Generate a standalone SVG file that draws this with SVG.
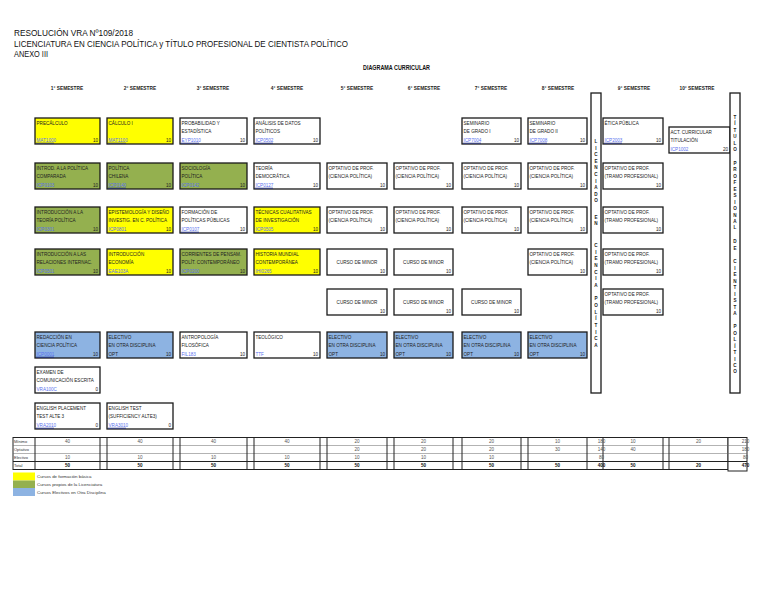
<svg xmlns="http://www.w3.org/2000/svg" width="768" height="594" viewBox="0 0 768 594">
<style>
text{font-family:"Liberation Sans",Arial,sans-serif}
.bx{stroke:#1a1a1a;stroke-width:1.3}
.w{fill:#fff}.y{fill:#ffff00}.g{fill:#94b04f}.b{fill:#8db3e2}
.t{font-size:4.6px;fill:#222}
.c{font-size:4.6px;fill:#5a72ee}
.r{text-anchor:end}
.m{text-anchor:middle}
.u{stroke:#1c2a8c;stroke-width:0.8}
.hd{font-size:4.8px;font-weight:bold;fill:#222;text-anchor:middle}
.vl{font-size:4.6px;font-weight:bold;fill:#222;text-anchor:middle}
.tv{font-size:4.6px;fill:#555;text-anchor:middle}
.tb{font-size:4.6px;fill:#111;font-weight:bold;text-anchor:middle}
.tl{font-size:4px;fill:#333}
.tg{stroke:#222;stroke-width:1}
.th{stroke:#666;stroke-width:0.5}
.lg{font-size:4.4px;fill:#333}
</style>
<rect width="768" height="594" fill="#fff"/>
<g id="title">
<text x="14" y="36" font-size="9" fill="#111" textLength="119" lengthAdjust="spacingAndGlyphs">RESOLUCIÓN VRA Nº109/2018</text>
<text x="14" y="46.5" font-size="9" fill="#111" textLength="334" lengthAdjust="spacingAndGlyphs">LICENCIATURA EN CIENCIA POLÍTICA y TÍTULO PROFESIONAL DE CIENTISTA POLÍTICO</text>
<text x="14" y="57" font-size="8.6" fill="#111" textLength="34" lengthAdjust="spacingAndGlyphs">ANEXO III</text>
<text x="363" y="70" font-size="7" font-weight="bold" fill="#111" textLength="67" lengthAdjust="spacingAndGlyphs">DIAGRAMA CURRICULAR</text>
</g>
<g id="headers">
<text class="hd" x="67" y="90">1° SEMESTRE</text>
<text class="hd" x="140" y="90">2° SEMESTRE</text>
<text class="hd" x="213" y="90">3° SEMESTRE</text>
<text class="hd" x="287" y="90">4° SEMESTRE</text>
<text class="hd" x="357" y="90">5° SEMESTRE</text>
<text class="hd" x="424" y="90">6° SEMESTRE</text>
<text class="hd" x="491" y="90">7° SEMESTRE</text>
<text class="hd" x="558" y="90">8° SEMESTRE</text>
<text class="hd" x="634" y="90">9° SEMESTRE</text>
<text class="hd" x="697" y="90">10° SEMESTRE</text>
</g>

<!-- 1st semester -->
<g id="c1r1"><rect class="bx y" x="35" y="118" width="65" height="26"/><text class="t" x="36.5" y="124.5">PRECÁLCULO</text><text class="c" x="36.5" y="142">MAT1000</text><line class="u" x1="36" y1="143.2" x2="54" y2="143.2"/><text class="t r" x="98" y="142">10</text></g>
<g id="c1r2"><rect class="bx g" x="35" y="163" width="65" height="26"/><text class="t" x="36.5" y="169.5">INTROD. A LA POLÍTICA</text><text class="t" x="36.5" y="178">COMPARADA</text><text class="c" x="36.5" y="187">ICP0103</text><text class="t r" x="98" y="187">10</text></g>
<g id="c1r3"><rect class="bx g" x="35" y="207" width="65" height="26"/><text class="t" x="36.5" y="213.5">INTRODUCCIÓN A LA</text><text class="t" x="36.5" y="222">TEORÍA POLÍTICA</text><text class="c" x="36.5" y="231">ICP0301</text><text class="t r" x="98" y="231">10</text></g>
<g id="c1r4"><rect class="bx g" x="35" y="249" width="65" height="26"/><text class="t" x="36.5" y="255.5">INTRODUCCIÓN A LAS</text><text class="t" x="36.5" y="264">RELACIONES INTERNAC.</text><text class="c" x="36.5" y="273">ICP0501</text><text class="t r" x="98" y="273">10</text></g>
<g id="c1r6"><rect class="bx b" x="35" y="332" width="65" height="26"/><text class="t" x="36.5" y="338.5">REDACCIÓN EN</text><text class="t" x="36.5" y="347">CIENCIA POLÍTICA</text><text class="c" x="36.5" y="356">ICP0001</text><line class="u" x1="36" y1="357.2" x2="54" y2="357.2"/><text class="t r" x="98" y="356">10</text></g>
<g id="c1r7"><rect class="bx w" x="35" y="367" width="65" height="26"/><text class="t" x="36.5" y="373.5">EXAMEN DE</text><text class="t" x="36.5" y="382">COMUNICACIÓN ESCRITA</text><text class="c" x="36.5" y="391">VRA100C</text><text class="t r" x="98" y="391">0</text></g>
<g id="c1r8"><rect class="bx w" x="35" y="403" width="65" height="26"/><text class="t" x="36.5" y="409.5">ENGLISH PLACEMENT</text><text class="t" x="36.5" y="418">TEST ALTE 3</text><text class="c" x="36.5" y="427">VRA2010</text><line class="u" x1="36" y1="428.2" x2="54" y2="428.2"/><text class="t r" x="98" y="427">0</text></g>

<!-- 2nd semester -->
<g id="c2r1"><rect class="bx y" x="107" y="118" width="66" height="26"/><text class="t" x="108.5" y="124.5">CÁLCULO I</text><text class="c" x="108.5" y="142">MAT1100</text><line class="u" x1="108" y1="143.2" x2="126" y2="143.2"/><text class="t r" x="171" y="142">10</text></g>
<g id="c2r2"><rect class="bx g" x="107" y="163" width="66" height="26"/><text class="t" x="108.5" y="169.5">POLÍTICA</text><text class="t" x="108.5" y="178">CHILENA</text><text class="c" x="108.5" y="187">ICP0140</text><line class="u" x1="108" y1="188.2" x2="126" y2="188.2"/><text class="t r" x="171" y="187">10</text></g>
<g id="c2r3"><rect class="bx y" x="107" y="207" width="66" height="26"/><text class="t" x="108.5" y="213.5">EPISTEMOLOGÍA Y DISEÑO</text><text class="t" x="108.5" y="222">INVESTIG. EN C. POLÍTICA</text><text class="c" x="108.5" y="231">ICP0801</text><text class="t r" x="171" y="231">10</text></g>
<g id="c2r4"><rect class="bx y" x="107" y="249" width="66" height="26"/><text class="t" x="108.5" y="255.5">INTRODUCCIÓN</text><text class="t" x="108.5" y="264">ECONOMÍA</text><text class="c" x="108.5" y="273">EAE103A</text><text class="t r" x="171" y="273">10</text></g>
<g id="c2r6"><rect class="bx b" x="107" y="332" width="66" height="26"/><text class="t" x="108.5" y="338.5">ELECTIVO</text><text class="t" x="108.5" y="347">EN OTRA DISCIPLINA</text><text class="t" x="108.5" y="356">OPT</text><text class="t r" x="171" y="356">10</text></g>
<g id="c2r8"><rect class="bx w" x="107" y="403" width="66" height="26"/><text class="t" x="108.5" y="409.5">ENGLISH TEST</text><text class="t" x="108.5" y="418">(SUFFICIENCY ALTE3)</text><text class="c" x="108.5" y="427">VRA3010</text><line class="u" x1="108" y1="428.2" x2="126" y2="428.2"/><text class="t r" x="171" y="427">0</text></g>

<!-- 3rd semester -->
<g id="c3r1"><rect class="bx w" x="180" y="118" width="67" height="26"/><text class="t" x="181.5" y="124.5">PROBABILIDAD Y</text><text class="t" x="181.5" y="133">ESTADÍSTICA</text><text class="c" x="181.5" y="142">EYP1010</text><line class="u" x1="181" y1="143.2" x2="199" y2="143.2"/><text class="t r" x="245" y="142">10</text></g>
<g id="c3r2"><rect class="bx g" x="180" y="163" width="67" height="26"/><text class="t" x="181.5" y="169.5">SOCIOLOGÍA</text><text class="t" x="181.5" y="178">POLÍTICA</text><text class="c" x="181.5" y="187">ICP0142</text><text class="t r" x="245" y="187">10</text></g>
<g id="c3r3"><rect class="bx w" x="180" y="207" width="67" height="26"/><text class="t" x="181.5" y="213.5">FORMACIÓN DE</text><text class="t" x="181.5" y="222">POLÍTICAS PÚBLICAS</text><text class="c" x="181.5" y="231">ICP0107</text><line class="u" x1="181" y1="232.2" x2="199" y2="232.2"/><text class="t r" x="245" y="231">10</text></g>
<g id="c3r4"><rect class="bx g" x="180" y="249" width="67" height="26"/><text class="t" x="181.5" y="255.5">CORRIENTES DE PENSAM.</text><text class="t" x="181.5" y="264">POLÍT. CONTEMPORÁNEO</text><text class="c" x="181.5" y="273">ICP0200</text><text class="t r" x="245" y="273">10</text></g>
<g id="c3r6"><rect class="bx w" x="180" y="332" width="67" height="26"/><text class="t" x="181.5" y="338.5">ANTROPOLOGÍA</text><text class="t" x="181.5" y="347">FILOSÓFICA</text><text class="c" x="181.5" y="356">FIL183</text><text class="t r" x="245" y="356">10</text></g>

<!-- 4th semester -->
<g id="c4r1"><rect class="bx w" x="254" y="118" width="66" height="26"/><text class="t" x="255.5" y="124.5">ANÁLISIS DE DATOS</text><text class="t" x="255.5" y="133">POLÍTICOS</text><text class="c" x="255.5" y="142">ICP0502</text><line class="u" x1="255" y1="143.2" x2="273" y2="143.2"/><text class="t r" x="318" y="142">10</text></g>
<g id="c4r2"><rect class="bx w" x="254" y="163" width="66" height="26"/><text class="t" x="255.5" y="169.5">TEORÍA</text><text class="t" x="255.5" y="178">DEMOCRÁTICA</text><text class="c" x="255.5" y="187">ICP0127</text><line class="u" x1="255" y1="188.2" x2="273" y2="188.2"/><text class="t r" x="318" y="187">10</text></g>
<g id="c4r3"><rect class="bx y" x="254" y="207" width="66" height="26"/><text class="t" x="255.5" y="213.5">TÉCNICAS CUALITATIVAS</text><text class="t" x="255.5" y="222">DE INVESTIGACIÓN</text><text class="c" x="255.5" y="231">ICP0505</text><text class="t r" x="318" y="231">10</text></g>
<g id="c4r4"><rect class="bx y" x="254" y="249" width="66" height="26"/><text class="t" x="255.5" y="255.5">HISTORIA MUNDIAL</text><text class="t" x="255.5" y="264">CONTEMPORÁNEA</text><text class="c" x="255.5" y="273">IHI0265</text><text class="t r" x="318" y="273">10</text></g>
<g id="c4r6"><rect class="bx w" x="254" y="332" width="66" height="26"/><text class="t" x="255.5" y="338.5">TEOLÓGICO</text><text class="c" x="255.5" y="356">TTF</text><text class="t r" x="318" y="356">10</text></g>

<!-- 5th semester -->
<g id="c5r2"><rect class="bx w" x="327" y="163" width="60" height="26"/><text class="t" x="328.5" y="169.5">OPTATIVO DE PROF.</text><text class="t" x="328.5" y="178">(CIENCIA POLÍTICA)</text><text class="t r" x="385" y="187">10</text></g>
<g id="c5r3"><rect class="bx w" x="327" y="207" width="60" height="26"/><text class="t" x="328.5" y="213.5">OPTATIVO DE PROF.</text><text class="t" x="328.5" y="222">(CIENCIA POLÍTICA)</text><text class="t r" x="385" y="231">10</text></g>
<g id="c5r4"><rect class="bx w" x="327" y="249" width="60" height="26"/><text class="t m" x="357" y="264">CURSO DE MINOR</text><text class="t r" x="385" y="273">10</text></g>
<g id="c5r5"><rect class="bx w" x="327" y="289" width="60" height="26"/><text class="t m" x="357" y="304">CURSO DE MINOR</text><text class="t r" x="385" y="313">10</text></g>
<g id="c5r6"><rect class="bx b" x="327" y="332" width="60" height="26"/><text class="t" x="328.5" y="338.5">ELECTIVO</text><text class="t" x="328.5" y="347">EN OTRA DISCIPLINA</text><text class="t" x="328.5" y="356">OPT</text><text class="t r" x="385" y="356">10</text></g>

<!-- 6th semester -->
<g id="c6r2"><rect class="bx w" x="394" y="163" width="59" height="26"/><text class="t" x="395.5" y="169.5">OPTATIVO DE PROF.</text><text class="t" x="395.5" y="178">(CIENCIA POLÍTICA)</text><text class="t r" x="451" y="187">10</text></g>
<g id="c6r3"><rect class="bx w" x="394" y="207" width="59" height="26"/><text class="t" x="395.5" y="213.5">OPTATIVO DE PROF.</text><text class="t" x="395.5" y="222">(CIENCIA POLÍTICA)</text><text class="t r" x="451" y="231">10</text></g>
<g id="c6r4"><rect class="bx w" x="394" y="249" width="59" height="26"/><text class="t m" x="423.5" y="264">CURSO DE MINOR</text><text class="t r" x="451" y="273">10</text></g>
<g id="c6r5"><rect class="bx w" x="394" y="289" width="59" height="26"/><text class="t m" x="423.5" y="304">CURSO DE MINOR</text><text class="t r" x="451" y="313">10</text></g>
<g id="c6r6"><rect class="bx b" x="394" y="332" width="59" height="26"/><text class="t" x="395.5" y="338.5">ELECTIVO</text><text class="t" x="395.5" y="347">EN OTRA DISCIPLINA</text><text class="t" x="395.5" y="356">OPT</text><text class="t r" x="451" y="356">10</text></g>

<!-- 7th semester -->
<g id="c7r1"><rect class="bx w" x="462" y="118" width="59" height="26"/><text class="t" x="463.5" y="124.5">SEMINARIO</text><text class="t" x="463.5" y="133">DE GRADO  I</text><text class="c" x="463.5" y="142">ICP7004</text><line class="u" x1="463" y1="143.2" x2="481" y2="143.2"/><text class="t r" x="519" y="142">10</text></g>
<g id="c7r2"><rect class="bx w" x="462" y="163" width="59" height="26"/><text class="t" x="463.5" y="169.5">OPTATIVO DE PROF.</text><text class="t" x="463.5" y="178">(CIENCIA POLÍTICA)</text><text class="t r" x="519" y="187">10</text></g>
<g id="c7r3"><rect class="bx w" x="462" y="207" width="59" height="26"/><text class="t" x="463.5" y="213.5">OPTATIVO DE PROF.</text><text class="t" x="463.5" y="222">(CIENCIA POLÍTICA)</text><text class="t r" x="519" y="231">10</text></g>
<g id="c7r5"><rect class="bx w" x="462" y="289" width="59" height="26"/><text class="t m" x="491.5" y="304">CURSO DE MINOR</text><text class="t r" x="519" y="313">10</text></g>
<g id="c7r6"><rect class="bx b" x="462" y="332" width="59" height="26"/><text class="t" x="463.5" y="338.5">ELECTIVO</text><text class="t" x="463.5" y="347">EN OTRA DISCIPLINA</text><text class="t" x="463.5" y="356">OPT</text><text class="t r" x="519" y="356">10</text></g>

<!-- 8th semester -->
<g id="c8r1"><rect class="bx w" x="528" y="118" width="59" height="26"/><text class="t" x="529.5" y="124.5">SEMINARIO</text><text class="t" x="529.5" y="133">DE GRADO II</text><text class="c" x="529.5" y="142">ICP7008</text><line class="u" x1="529" y1="143.2" x2="547" y2="143.2"/><text class="t r" x="585" y="142">10</text></g>
<g id="c8r2"><rect class="bx w" x="528" y="163" width="59" height="26"/><text class="t" x="529.5" y="169.5">OPTATIVO DE PROF.</text><text class="t" x="529.5" y="178">(CIENCIA POLÍTICA)</text><text class="t r" x="585" y="187">10</text></g>
<g id="c8r3"><rect class="bx w" x="528" y="207" width="59" height="26"/><text class="t" x="529.5" y="213.5">OPTATIVO DE PROF.</text><text class="t" x="529.5" y="222">(CIENCIA POLÍTICA)</text><text class="t r" x="585" y="231">10</text></g>
<g id="c8r4"><rect class="bx w" x="528" y="249" width="59" height="26"/><text class="t" x="529.5" y="255.5">OPTATIVO DE PROF.</text><text class="t" x="529.5" y="264">(CIENCIA POLÍTICA)</text><text class="t r" x="585" y="273">10</text></g>
<g id="c8r6"><rect class="bx b" x="528" y="332" width="59" height="26"/><text class="t" x="529.5" y="338.5">ELECTIVO</text><text class="t" x="529.5" y="347">EN OTRA DISCIPLINA</text><text class="t" x="529.5" y="356">OPT</text><text class="t r" x="585" y="356">10</text></g>

<!-- Licenciado bar -->
<g id="licenciado">
<rect class="bx w" x="591" y="93" width="10" height="300"/>
<text class="vl" x="596" y="143">L</text><text class="vl" x="596" y="149.6">I</text><text class="vl" x="596" y="156.2">C</text><text class="vl" x="596" y="162.8">E</text><text class="vl" x="596" y="169.4">N</text><text class="vl" x="596" y="176">C</text><text class="vl" x="596" y="182.6">I</text><text class="vl" x="596" y="189.2">A</text><text class="vl" x="596" y="195.8">D</text><text class="vl" x="596" y="202.4">O</text>
<text class="vl" x="596" y="218.5">E</text><text class="vl" x="596" y="225.1">N</text>
<text class="vl" x="596" y="246.8">C</text><text class="vl" x="596" y="253.5">I</text><text class="vl" x="596" y="260.1">E</text><text class="vl" x="596" y="266.8">N</text><text class="vl" x="596" y="273.5">C</text><text class="vl" x="596" y="280.1">I</text><text class="vl" x="596" y="286.8">A</text>
<text class="vl" x="596" y="300.3">P</text><text class="vl" x="596" y="307">O</text><text class="vl" x="596" y="313.6">L</text><text class="vl" x="596" y="320.3">Í</text><text class="vl" x="596" y="326.9">T</text><text class="vl" x="596" y="333.6">I</text><text class="vl" x="596" y="340.2">C</text><text class="vl" x="596" y="346.8">A</text>
</g>

<!-- 9th semester -->
<g id="c9r1"><rect class="bx w" x="603" y="118" width="60" height="26"/><text class="t" x="604.5" y="124.5">ÉTICA PÚBLICA</text><text class="c" x="604.5" y="142">ICP2003</text><line class="u" x1="604" y1="143.2" x2="622" y2="143.2"/><text class="t r" x="661" y="142">10</text></g>
<g id="c9r2"><rect class="bx w" x="603" y="163" width="60" height="26"/><text class="t" x="604.5" y="169.5">OPTATIVO DE PROF.</text><text class="t" x="604.5" y="178">(TRAMO PROFESIONAL)</text><text class="t r" x="661" y="187">10</text></g>
<g id="c9r3"><rect class="bx w" x="603" y="207" width="60" height="26"/><text class="t" x="604.5" y="213.5">OPTATIVO DE PROF.</text><text class="t" x="604.5" y="222">(TRAMO PROFESIONAL)</text><text class="t r" x="661" y="231">10</text></g>
<g id="c9r4"><rect class="bx w" x="603" y="249" width="60" height="26"/><text class="t" x="604.5" y="255.5">OPTATIVO DE PROF.</text><text class="t" x="604.5" y="264">(TRAMO PROFESIONAL)</text><text class="t r" x="661" y="273">10</text></g>
<g id="c9r5"><rect class="bx w" x="603" y="289" width="60" height="26"/><text class="t" x="604.5" y="295.5">OPTATIVO DE PROF.</text><text class="t" x="604.5" y="304">(TRAMO PROFESIONAL)</text><text class="t r" x="661" y="313">10</text></g>

<!-- 10th semester -->
<g id="c10r1"><rect class="bx w" x="669" y="127" width="61" height="26"/><text class="t" x="670.5" y="133.5">ACT. CURRICULAR</text><text class="t" x="670.5" y="142">TITULACIÓN</text><text class="c" x="670.5" y="151">ICP1002</text><text class="t r" x="728" y="151">20</text></g>

<!-- Titulo bar -->
<g id="titulo">
<rect class="bx w" x="730" y="93" width="10" height="300"/>
<text class="vl" x="735" y="119">T</text><text class="vl" x="735" y="125.4">Í</text><text class="vl" x="735" y="131.8">T</text><text class="vl" x="735" y="138.2">U</text><text class="vl" x="735" y="144.6">L</text><text class="vl" x="735" y="151">O</text>
<text class="vl" x="735" y="165">P</text><text class="vl" x="735" y="171.4">R</text><text class="vl" x="735" y="177.9">O</text><text class="vl" x="735" y="184.3">F</text><text class="vl" x="735" y="190.8">E</text><text class="vl" x="735" y="197.2">S</text><text class="vl" x="735" y="203.6">I</text><text class="vl" x="735" y="210.1">O</text><text class="vl" x="735" y="216.5">N</text><text class="vl" x="735" y="223">A</text><text class="vl" x="735" y="229.4">L</text>
<text class="vl" x="735" y="243.4">D</text><text class="vl" x="735" y="249.9">E</text>
<text class="vl" x="735" y="263.4">C</text><text class="vl" x="735" y="269.8">I</text><text class="vl" x="735" y="276.3">E</text><text class="vl" x="735" y="282.7">N</text><text class="vl" x="735" y="289.2">T</text><text class="vl" x="735" y="295.6">I</text><text class="vl" x="735" y="302.1">S</text><text class="vl" x="735" y="308.5">T</text><text class="vl" x="735" y="315">A</text>
<text class="vl" x="735" y="328.4">P</text><text class="vl" x="735" y="334.8">O</text><text class="vl" x="735" y="341.3">L</text><text class="vl" x="735" y="347.7">Í</text><text class="vl" x="735" y="354.1">T</text><text class="vl" x="735" y="360.6">I</text><text class="vl" x="735" y="367">C</text><text class="vl" x="735" y="373.4">O</text>
</g>

<!-- Summary table -->
<g id="table">
<rect x="13" y="437.5" width="715" height="32" fill="#fff" class="tg"/>
<rect x="728" y="437.5" width="19" height="33.5" fill="#fff" class="tg"/>
<line class="th" x1="13" y1="445.5" x2="747" y2="445.5"/>
<line class="th" x1="13" y1="453.5" x2="747" y2="453.5"/>
<line class="tg" x1="13" y1="461.5" x2="747" y2="461.5"/>
<g class="tg">
<line x1="35" y1="437.5" x2="35" y2="469.5"/><line x1="100" y1="437.5" x2="100" y2="469.5"/><line x1="107" y1="437.5" x2="107" y2="469.5"/>
<line x1="173" y1="437.5" x2="173" y2="469.5"/><line x1="180" y1="437.5" x2="180" y2="469.5"/><line x1="247" y1="437.5" x2="247" y2="469.5"/>
<line x1="254" y1="437.5" x2="254" y2="469.5"/><line x1="320" y1="437.5" x2="320" y2="469.5"/><line x1="327" y1="437.5" x2="327" y2="469.5"/>
<line x1="387" y1="437.5" x2="387" y2="469.5"/><line x1="394" y1="437.5" x2="394" y2="469.5"/><line x1="453" y1="437.5" x2="453" y2="469.5"/>
<line x1="462" y1="437.5" x2="462" y2="469.5"/><line x1="521" y1="437.5" x2="521" y2="469.5"/><line x1="528" y1="437.5" x2="528" y2="469.5"/>
<line x1="587" y1="437.5" x2="587" y2="469.5"/><line x1="603" y1="437.5" x2="603" y2="469.5"/><line x1="663" y1="437.5" x2="663" y2="469.5"/>
<line x1="669" y1="437.5" x2="669" y2="469.5"/>
</g>
<text class="tl" x="14" y="443">Mínimo</text>
<text class="tl" x="14" y="451">Optativo</text>
<text class="tl" x="14" y="459">Electivo</text>
<text class="tl" x="14" y="467">Total</text>
<!-- Minimo -->
<text class="tv" x="67.5" y="443">40</text><text class="tv" x="140" y="443">40</text><text class="tv" x="213.5" y="443">40</text><text class="tv" x="287" y="443">40</text>
<text class="tv" x="357" y="443">20</text><text class="tv" x="423.5" y="443">20</text><text class="tv" x="491.5" y="443">20</text><text class="tv" x="557.5" y="443">10</text>
<text class="tv r" x="601.5" y="443">180</text><text class="tv" x="633" y="443">10</text><text class="tv" x="698.5" y="443">20</text><text class="tv r" x="745.5" y="443">210</text>
<!-- Optativo -->
<text class="tv" x="357" y="451">20</text><text class="tv" x="423.5" y="451">20</text><text class="tv" x="491.5" y="451">20</text><text class="tv" x="557.5" y="451">30</text>
<text class="tv r" x="601.5" y="451">140</text><text class="tv" x="633" y="451">40</text><text class="tv r" x="745.5" y="451">180</text>
<!-- Electivo -->
<text class="tv" x="67.5" y="459">10</text><text class="tv" x="140" y="459">10</text><text class="tv" x="213.5" y="459">10</text><text class="tv" x="287" y="459">10</text>
<text class="tv" x="357" y="459">10</text><text class="tv" x="423.5" y="459">10</text><text class="tv" x="491.5" y="459">10</text>
<text class="tv r" x="601.5" y="459">80</text><text class="tv r" x="745.5" y="459">80</text>
<!-- Total -->
<text class="tb" x="67.5" y="467">50</text><text class="tb" x="140" y="467">50</text><text class="tb" x="213.5" y="467">50</text><text class="tb" x="287" y="467">50</text>
<text class="tb" x="357" y="467">50</text><text class="tb" x="423.5" y="467">50</text><text class="tb" x="491.5" y="467">50</text><text class="tb" x="557.5" y="467">50</text>
<text class="tb r" x="601.5" y="467">400</text><text class="tb" x="633" y="467">50</text><text class="tb" x="698.5" y="467">20</text><text class="tb r" x="745.5" y="467">470</text>
</g>

<!-- Legend -->
<g id="legend">
<rect x="13" y="472.5" width="22" height="8" fill="#ffff00"/>
<rect x="13" y="480.5" width="22" height="7.5" fill="#94b04f"/>
<rect x="13" y="488" width="22" height="8" fill="#8db3e2"/>
<text class="lg" x="37" y="478">Cursos de formación básica</text>
<text class="lg" x="37" y="485.5">Cursos propios de la Licenciatura</text>
<text class="lg" x="37" y="493.5">Cursos Electivos en Otra Disciplina</text>
</g>
</svg>
